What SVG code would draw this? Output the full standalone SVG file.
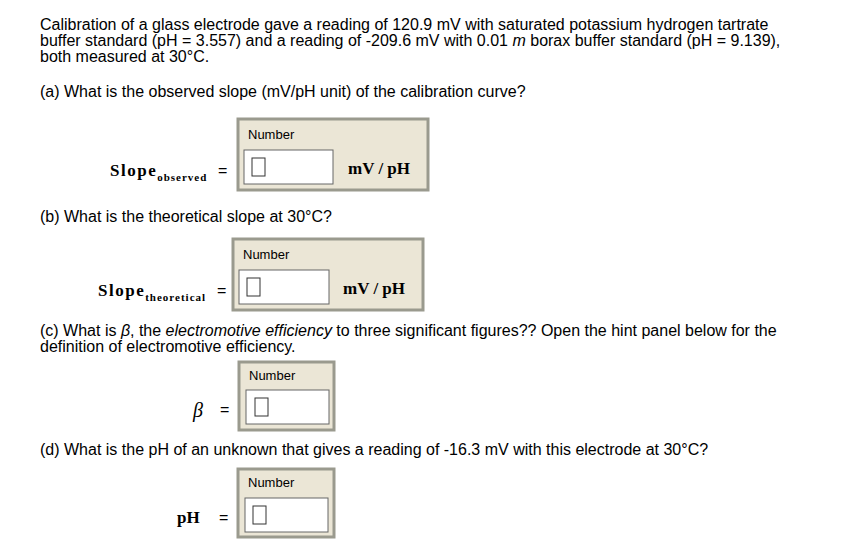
<svg xmlns="http://www.w3.org/2000/svg" width="846" height="548" viewBox="0 0 846 548">
<style>
.t{font-family:"Liberation Sans",Arial,sans-serif;font-size:16px;fill:#000}
.s{font-family:"Liberation Sans",Arial,sans-serif;font-size:13px;fill:#000}
.b{font-family:"Liberation Serif","Times New Roman",serif;font-weight:bold;font-size:17px;fill:#000}
.sub{font-family:"Liberation Serif","Times New Roman",serif;font-weight:bold;font-size:11px;fill:#000;letter-spacing:1px}
.outer{fill:#ebe6d6;stroke:#9a9a8e;stroke-width:3}
.inp{fill:#fff;stroke:#666;stroke-width:1}
.cur{fill:#fff;stroke:#333;stroke-width:1}
</style>
<rect width="846" height="548" fill="#fff"/>
<text class="t" x="40" y="30">Calibration of a glass electrode gave a reading of 120.9 mV with saturated potassium hydrogen tartrate</text>
<text class="t" x="40" y="46">buffer standard (pH = 3.557) and a reading of -209.6 mV with 0.01 <tspan font-style="italic">m</tspan> borax buffer standard (pH = 9.139),</text>
<text class="t" x="40" y="62">both measured at 30°C.</text>
<text class="t" x="40" y="97">(a) What is the observed slope (mV/pH unit) of the calibration curve?</text>
<g id="a">
<text class="b" x="110" y="176" letter-spacing="1.5">Slope<tspan class="sub" dy="5">observed</tspan></text>
<text class="t" x="218" y="176">=</text>
<rect class="outer" x="238" y="119" width="190" height="71"/>
<text class="s" x="248" y="139">Number</text>
<rect class="inp" x="244" y="150" width="89" height="34"/>
<rect class="cur" x="252" y="158" width="13" height="18"/>
<text class="b" x="348" y="174">mV / pH</text>
</g>
<text class="t" x="40" y="222">(b) What is the theoretical slope at 30°C?</text>
<g id="b">
<text class="b" x="98" y="296" letter-spacing="1.5">Slope<tspan class="sub" dy="5">theoretical</tspan></text>
<text class="t" x="217" y="296">=</text>
<rect class="outer" x="233" y="239" width="190" height="71"/>
<text class="s" x="243" y="259">Number</text>
<rect class="inp" x="239" y="270" width="90" height="34"/>
<rect class="cur" x="247" y="278" width="13" height="18"/>
<text class="b" x="343" y="294">mV / pH</text>
</g>
<text class="t" x="40" y="336">(c) What is <tspan font-style="italic">β</tspan>, the <tspan font-style="italic">electromotive efficiency</tspan> to three significant figures?? Open the hint panel below for the</text>
<text class="t" x="40" y="352">definition of electromotive efficiency.</text>
<g id="c">
<text x="193" y="417" font-family="Liberation Serif,serif" font-style="italic" font-size="20">β</text>
<text class="t" x="220" y="415">=</text>
<rect class="outer" x="239" y="362" width="95" height="68"/>
<text class="s" x="249" y="380">Number</text>
<rect class="inp" x="246" y="390" width="83" height="34"/>
<rect class="cur" x="255" y="398" width="13" height="18"/>
</g>
<text class="t" x="40" y="455">(d) What is the pH of an unknown that gives a reading of -16.3 mV with this electrode at 30°C?</text>
<g id="d">
<text class="b" x="177" y="523">pH</text>
<text class="t" x="219" y="523">=</text>
<rect class="outer" x="238" y="469" width="96" height="68"/>
<text class="s" x="248" y="487">Number</text>
<rect class="inp" x="245" y="498" width="83" height="34"/>
<rect class="cur" x="253" y="506" width="13" height="18"/>
</g>
<g id="connectors"/>
</svg>
